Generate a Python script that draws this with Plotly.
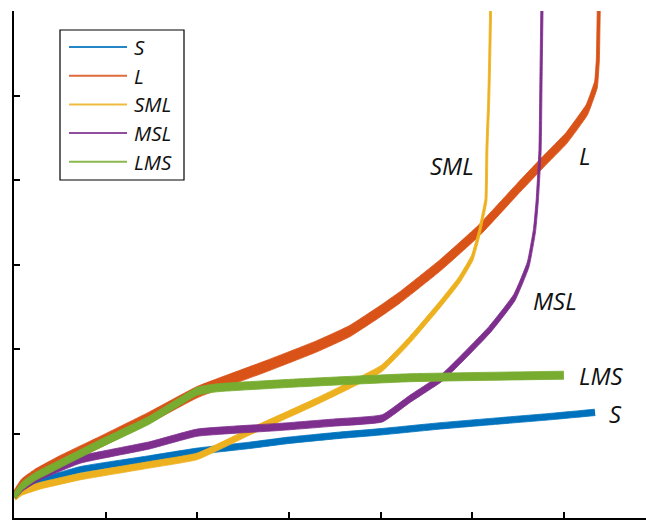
import numpy as np
import plotly.graph_objects as go

# ---- series data -------------------------------------------------------
names = ["S", "L", "SML", "MSL", "LMS"]
colors = ["#0072BD", "#D95319", "#EDB120", "#7E2F8E", "#77AC30"]

S_x = [0, 0.09, 0.28, 0.72, 1.48, 2.0, 2.57, 3.0, 3.56, 4.0, 4.65, 5.3, 5.85, 6.34]
S_y = [0.25, 0.34, 0.43, 0.57, 0.70, 0.79, 0.86, 0.92, 0.98, 1.02, 1.09, 1.15, 1.20, 1.25]

L_x = [0, 0.09, 0.23, 0.50, 0.94, 1.48, 2.0, 2.76, 3.30, 3.66, 4.0, 4.21, 4.65, 5.08,
       5.49, 5.77, 6.03, 6.25, 6.30, 6.35, 6.37, 6.38]
L_y = [0.25, 0.40, 0.51, 0.67, 0.90, 1.19, 1.49, 1.80, 2.03, 2.21, 2.45, 2.61, 2.99, 3.41,
       3.89, 4.21, 4.50, 4.83, 4.97, 5.13, 5.42, 6.0]

SML_x = [0, 0.09, 0.28, 0.72, 1.48, 2.0, 2.57, 3.30, 4.01, 4.32, 4.65, 4.86, 5.0,
         5.08, 5.13, 5.15, 5.16, 5.18, 5.19, 5.20]
SML_y = [0.24, 0.31, 0.38, 0.49, 0.63, 0.73, 1.02, 1.38, 1.77, 2.11, 2.53, 2.82, 3.08,
         3.39, 3.65, 3.77, 4.36, 4.95, 5.42, 6.0]

MSL_x = [0, 0.09, 0.28, 0.72, 1.48, 2.0, 2.93, 3.50, 4.02, 4.32, 4.68, 5.19, 5.46,
         5.61, 5.68, 5.71, 5.74, 5.75, 5.76]
MSL_y = [0.25, 0.36, 0.49, 0.69, 0.86, 1.01, 1.08, 1.13, 1.18, 1.41, 1.67, 2.23, 2.61,
         3.0, 3.41, 3.77, 4.36, 5.19, 6.0]

LMS_x = [0, 0.09, 0.23, 0.50, 0.94, 1.48, 2.0, 2.21, 3.12, 4.32, 6.0]
LMS_y = [0.25, 0.38, 0.49, 0.64, 0.88, 1.16, 1.50, 1.54, 1.60, 1.66, 1.69]

series_x = [S_x, L_x, SML_x, MSL_x, LMS_x]
series_y = [S_y, L_y, SML_y, MSL_y, LMS_y]

# end-of-curve labels (data coordinates)
label_x = [6.56, 6.23, 4.78, 5.90, 6.41]
label_y = [1.24, 4.29, 4.17, 2.57, 1.69]

# pen half-sizes (px): horizontal, vertical
pen_a = [1.0, 1.5, 1.0, 1.1, 1.2]
pen_b = [3.2, 5.6, 3.3, 3.6, 4.0]

# ---- layout geometry ---------------------------------------------------
W, H = 646, 520
ML, MR, MT, MB = 14, 0, 11, 2
PW, PH = W - ML - MR, H - MT - MB
X_MAX, Y_MAX = PW / 91.65, 6.0
SX, SY = PW / X_MAX, PH / Y_MAX


def stroke_edges(xs, ys, a, b):
    """Upper and lower edges of a polyline stroked with an elliptical pen."""
    P = np.column_stack([np.asarray(xs) * SX, np.asarray(ys) * SY])
    seg = np.diff(P, axis=0)
    t = seg / np.hypot(seg[:, 0], seg[:, 1])[:, None]
    n = np.column_stack([-t[:, 1], t[:, 0]])
    h = np.sqrt((a * n[:, 0]) ** 2 + (b * n[:, 1]) ** 2)
    offs = []
    for i in range(len(P)):
        if i == 0:
            v = h[0] * n[0]
        elif i == len(P) - 1:
            v = h[-1] * n[-1]
        else:
            n1, n2, h1, h2 = n[i - 1], n[i], h[i - 1], h[i]
            M = np.array([n1, n2])
            if abs(np.linalg.det(M)) < 1e-3:
                v = 0.5 * (h1 * n1 + h2 * n2)
            else:
                v = np.linalg.solve(M, [h1, h2])
                lim = 2.5 * max(h1, h2)
                norm = np.hypot(*v)
                if norm > lim:
                    v = v / norm * lim
        offs.append(v)
    offs = np.array(offs)
    up, lo = P + offs, P - offs
    return (up[:, 0] / SX, up[:, 1] / SY), (lo[:, 0] / SX, lo[:, 1] / SY)


fig = go.Figure()
for xs, ys, c, a, b, nm in zip(series_x, series_y, colors, pen_a, pen_b, names):
    (ux, uy), (lx, ly) = stroke_edges(xs, ys, a, b)
    edge = dict(color=c, width=0.8, shape="spline", smoothing=0.4)
    fig.add_trace(go.Scatter(x=lx, y=ly, mode="lines", line=edge,
                             name=nm, showlegend=False, hoverinfo="skip"))
    fig.add_trace(go.Scatter(x=ux, y=uy, mode="lines", line=edge,
                             fill="tonexty", fillcolor=c,
                             name=nm, showlegend=False, hoverinfo="skip"))

label_font = dict(family="Open Sans, Noto Sans, sans-serif", size=24, color="#111111")
for nm, tx, ty in zip(names, label_x, label_y):
    fig.add_annotation(x=tx, y=ty, text=f"<i>{nm}</i>", showarrow=False,
                       xanchor="center", yanchor="middle", font=label_font)

# legend box drawn in paper coordinates
def pxp(px):
    return (px - ML) / PW


def pyp(py):
    return (H - MB - py) / PH


fig.add_shape(type="rect", xref="paper", yref="paper",
              x0=pxp(60), x1=pxp(184), y0=pyp(180), y1=pyp(30),
              line=dict(color="#000000", width=1.2), fillcolor="white", layer="above")
leg_font = dict(family="Open Sans, Noto Sans, sans-serif", size=20.5, color="#111111")
for i, (nm, c) in enumerate(zip(names, colors)):
    yrow = pyp(47 + i * 28.7)
    fig.add_shape(type="line", xref="paper", yref="paper",
                  x0=pxp(69), x1=pxp(127), y0=yrow, y1=yrow,
                  line=dict(color=c, width=2), opacity=0.85, layer="above")
    fig.add_annotation(xref="paper", yref="paper", x=pxp(132), y=yrow,
                       text=f"<i>{nm}</i>", showarrow=False,
                       xanchor="left", yanchor="middle", font=leg_font)

axis_common = dict(showgrid=False, zeroline=False, showticklabels=False,
                   ticks="inside", ticklen=6, tickwidth=1.5, tickcolor="#000000",
                   showline=True, linecolor="#000000", linewidth=1.8)
fig.update_xaxes(range=[0, X_MAX], tickvals=[1, 2, 3, 4, 5, 6], **axis_common)
fig.update_yaxes(range=[0, Y_MAX], tickvals=[1, 2, 3, 4, 5, 6], **axis_common)

fig.update_layout(width=W, height=H, autosize=False,
                  margin=dict(l=ML, r=MR, t=MT, b=MB, pad=0),
                  plot_bgcolor="white", paper_bgcolor="white",
                  showlegend=False)

fig.write_html("out.html")
